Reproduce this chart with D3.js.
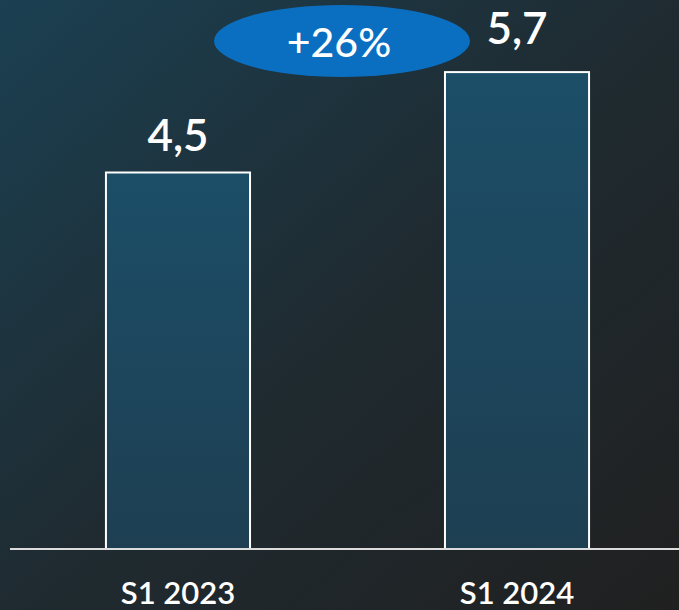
<!DOCTYPE html>
<html><head><meta charset="utf-8">
<script src="https://cdn.jsdelivr.net/npm/d3@7"></script>
<style>html,body{margin:0;padding:0;background:#202020;}svg{display:block;}</style>
</head><body>
<script>
const categories = ["S1 2023", "S1 2024"];
const values = [4.5, 5.7];
const valueLabels = ["4,5", "5,7"];
const changeLabel = "+26%";

const W = 679, H = 610;
const svg = d3.select("body").append("svg").attr("width", W).attr("height", H);
const defs = svg.append("defs");
const bg = defs.append("linearGradient").attr("id","bg").attr("x1","0").attr("y1","0").attr("x2","1").attr("y2","1");
bg.append("stop").attr("offset","0").attr("stop-color","#1b4052");
bg.append("stop").attr("offset","0.5").attr("stop-color","#1f2b31");
bg.append("stop").attr("offset","1").attr("stop-color","#202020");
const bf = defs.append("linearGradient").attr("id","bf").attr("x1","0").attr("y1","0").attr("x2","0").attr("y2","1");
bf.append("stop").attr("offset","0").attr("stop-color","#1c4e68");
bf.append("stop").attr("offset","1").attr("stop-color","#1e3f52");

svg.append("rect").attr("width",W).attr("height",H).attr("fill","url(#bg)");

const x = d3.scaleBand().domain(categories).range([10, 685]).paddingInner(0.575).paddingOuter(0.283);
const y = d3.scaleLinear().domain([0, 6]).range([549, 47]);

const font = "Lato, 'Open Sans', sans-serif";

svg.selectAll("rect.bar").data(values).join("rect").attr("class","bar")
  .attr("x",(d,i)=>x(categories[i])).attr("y",d=>y(d))
  .attr("width",x.bandwidth()).attr("height",d=>y(0)-y(d))
  .attr("fill","url(#bf)").attr("stroke","#ffffff").attr("stroke-width",2);

const axis = svg.append("g").attr("transform",`translate(0,${y(0)})`)
  .call(d3.axisBottom(x).tickSize(0).tickPadding(33));
axis.select(".domain").attr("d","M10,0H679").attr("stroke","#dcdcdc").attr("stroke-width",2);
axis.selectAll("text").attr("fill","#ffffff").attr("font-family",font).attr("font-size",31).attr("font-weight",600);

const offs = [22, 28];
svg.selectAll("text.val").data(values).join("text").attr("class","val")
  .attr("x",(d,i)=>x(categories[i])+x.bandwidth()/2).attr("y",(d,i)=>y(d)-offs[i])
  .attr("text-anchor","middle").attr("fill","#ffffff").attr("font-family",font)
  .attr("font-size",44).attr("font-weight",600).text((d,i)=>valueLabels[i]);

svg.append("ellipse").attr("cx",342).attr("cy",41).attr("rx",128).attr("ry",36).attr("fill","#0b6fc1");
svg.append("text").attr("x",339).attr("y",57).attr("text-anchor","middle").attr("fill","#ffffff")
  .attr("font-family",font).attr("font-size",41).attr("font-weight",500).text(changeLabel);
</script>
</body></html>
